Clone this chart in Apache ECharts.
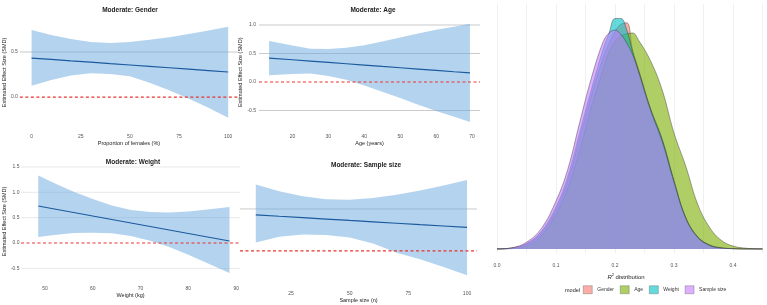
<!DOCTYPE html>
<html><head><meta charset="utf-8">
<script src="https://cdn.jsdelivr.net/npm/echarts@6/dist/echarts.min.js"></script>
<style>html,body{margin:0;padding:0;background:#fff}#c{width:767px;height:305px}</style>
</head><body><div id="c"></div>
<script>
// ---------- Panel 1: Gender ----------
const genderX   = [0,10,20,30,40,50,60,70,80,90,100];
const genderFit = [0.433,0.418,0.402,0.387,0.371,0.356,0.340,0.325,0.309,0.294,0.278];
const genderUp  = [0.744,0.69,0.645,0.61,0.60,0.61,0.635,0.665,0.70,0.74,0.78];
const genderLow = [0.125,0.19,0.24,0.265,0.255,0.23,0.16,0.075,-0.02,-0.12,-0.23];
const genderTicksX = [0,25,50,75,100];
const genderTicksY = [0,0.5];
const genderGridY  = [0.5];

// ---------- Panel 2: Age ----------
const ageX   = [13.5,20,25,30,35,40,45,50,55,60,65,69.4];
const ageFit = [0.42,0.39,0.366,0.343,0.32,0.297,0.273,0.25,0.227,0.204,0.18,0.16];
const ageUp  = [0.72,0.64,0.585,0.58,0.60,0.645,0.71,0.78,0.85,0.915,0.97,1.02];
const ageLow = [0.12,0.14,0.147,0.106,0.04,-0.06,-0.17,-0.28,-0.40,-0.51,-0.61,-0.70];
const ageTicksX = [20,30,40,50,60,70];
const ageTicksY = [-0.5,0,0.5,1.0];
const ageGridY  = [-0.5,0.5,1.0];

// ---------- Panel 3: Weight ----------
const weightX   = [48.6,52,56,60,64,68,72,76,80,84,88.6];
const weightFit = [0.73,0.671,0.602,0.533,0.464,0.395,0.326,0.257,0.188,0.119,0.04];
const weightUp  = [1.33,1.18,1.01,0.87,0.74,0.65,0.61,0.60,0.62,0.66,0.71];
const weightLow = [0.12,0.16,0.195,0.20,0.19,0.14,0.045,-0.08,-0.23,-0.40,-0.59];
const weightTicksX = [50,60,70,80,90];
const weightTicksY = [-0.5,0,0.5,1.0,1.5];
const weightGridY  = [-0.5,0.5,1.0,1.5];

// ---------- Panel 4: Sample size ----------
const sizeX   = [10,20,30,40,50,60,70,80,90,100];
const sizeFit = [0.43,0.413,0.397,0.38,0.363,0.347,0.33,0.313,0.297,0.28];
const sizeUp  = [0.79,0.71,0.65,0.615,0.61,0.63,0.67,0.72,0.78,0.845];
const sizeLow = [0.10,0.17,0.195,0.19,0.16,0.09,-0.02,-0.10,-0.19,-0.29];
const sizeTicksX = [25,50,75,100];
const sizeGridY  = [0.5];

// ---------- Panel 5: R^2 density ----------
const densX = [0,0.025,0.05,0.075,0.1,0.12,0.14,0.16,0.18,0.19,0.2,0.21,0.22,0.23,0.24,0.26,0.28,0.3,0.32,0.34,0.36,0.38,0.4,0.425,0.45];
const densGender = [0,0.03,0.17,0.55,1.35,2.35,3.8,5.3,6.6,7.1,7.5,7.75,7.8,6.85,6.2,4.85,3.78,2.35,1.08,0.42,0.14,0.04,0.01,0,0];
const densAge    = [0,0.01,0.1,0.45,1.2,2.1,3.4,4.9,6.2,6.8,7.15,7.35,7.42,7.45,7.2,6.5,5.48,4.0,2.85,1.55,0.75,0.3,0.1,0.02,0];
const densWeight = [0,0.03,0.18,0.6,1.45,2.5,4.0,5.5,6.9,7.45,7.95,7.95,7.55,6.8,6.15,4.85,3.78,2.35,1.08,0.42,0.14,0.04,0.01,0,0];
const densSize   = [0,0.04,0.23,0.7,1.65,2.75,4.35,5.9,7.15,7.45,7.55,7.4,7.1,6.7,6.1,4.8,3.7,2.3,1.05,0.4,0.12,0.03,0.01,0,0];
const densTicksX = [0,0.1,0.2,0.3,0.4];
const densGridX  = [0,0.05,0.1,0.15,0.2,0.25,0.3,0.35,0.4,0.45];
const modelNames  = ['Gender','Age','Weight','Sample size'];
const modelColors = ['#F8766D','#7CAE00','#00BFC4','#C77CFF'];

const FONT = '"Liberation Sans", Arial, sans-serif';
const RED = '#e8352e';
const chart = echarts.init(document.getElementById('c'), null, {renderer:'canvas'});

const zip = (xs, ys) => xs.map((x,i)=>[x, ys[i]]);

// band (ribbon) + horizontal grid lines + dashed zero reference, all through the panel's scales
function panelSeries(idx, xs, lo, up, gridYs, gridColor) {
  return {
    type:'custom', xAxisIndex:idx, yAxisIndex:idx, z:2, silent:true, clip:false,
    data:[[xs[0], lo[0]]],
    renderItem: function(params, api) {
      const cs = params.coordSys;
      const children = [];
      gridYs.forEach(v => {
        const y = api.coord([xs[0], v])[1];
        children.push({type:'line', shape:{x1:cs.x, y1:y, x2:cs.x+cs.width, y2:y},
          style:{stroke:gridColor, lineWidth:0.8}});
      });
      const pts = [];
      for (let i=0;i<xs.length;i++) pts.push(api.coord([xs[i], up[i]]));
      for (let i=xs.length-1;i>=0;i--) pts.push(api.coord([xs[i], lo[i]]));
      children.push({type:'polygon', shape:{points:pts}, style:{fill:'rgba(105,168,222,0.5)'}});
      const y0 = api.coord([xs[0], 0])[1];
      children.push({type:'line', shape:{x1:cs.x, y1:y0, x2:cs.x+cs.width, y2:y0},
        style:{stroke:RED, lineWidth:1.2, lineDash:[3,2.5]}});
      return {type:'group', children:children};
    }
  };
}
function fitSeries(idx, xs, fit) {
  return {type:'line', xAxisIndex:idx, yAxisIndex:idx, z:4, silent:true,
    data: zip(xs, fit), showSymbol:false, lineStyle:{color:'#1a5a9e', width:1.2}};
}

const tickFmt1 = v => (Math.abs(v) < 1e-9 ? '0.0' : v.toFixed(1));
const xLabelStyle = (vals, margin) => ({customValues: vals, fontSize:5, color:'#555', margin: margin, fontFamily: FONT});
const yLabelStyle = (vals, margin) => ({customValues: vals, fontSize:5, color:'#555', margin: margin, fontFamily: FONT, formatter: tickFmt1});
const nameStyle = {fontSize:5.5, color:'#222', fontFamily: FONT};

function xAxisCfg(idx, min, max, ticks, margin, name, gap) {
  return {gridIndex:idx, type:'value', min:min, max:max, axisLine:{show:false}, axisTick:{show:false},
    splitLine:{show:false}, axisLabel: xLabelStyle(ticks, margin),
    name:name, nameLocation:'middle', nameGap:gap, nameTextStyle:nameStyle};
}
function yAxisCfg(idx, min, max, ticks, margin, name, gap) {
  const c = {gridIndex:idx, type:'value', min:min, max:max, axisLine:{show:false}, axisTick:{show:false},
    splitLine:{show:false}};
  if (ticks) c.axisLabel = yLabelStyle(ticks, margin); else c.axisLabel = {show:false};
  if (name) { c.name = name; c.nameLocation='middle'; c.nameGap=gap; c.nameRotate=90; c.nameTextStyle=nameStyle; }
  return c;
}

const densSeries = modelNames.map((n,i)=>({
  name:n, type:'line', xAxisIndex:4, yAxisIndex:4, z:5+i, smooth:0.4, showSymbol:false, silent:true,
  data: zip(densX, [densGender,densAge,densWeight,densSize][i]),
  lineStyle:{color:'#333', width:0.5, opacity:0.85},
  itemStyle:{color:modelColors[i]},
  areaStyle:{color:modelColors[i], opacity:0.6}
}));

const titleStyle = {fontSize:6.5, fontWeight:'bold', color:'#222', fontFamily: FONT};

chart.setOption({
  animation:false,
  backgroundColor:'#fff',
  title:[
    {text:'Moderate: Gender', left:125, top:2, textAlign:'center', textStyle:titleStyle},
    {text:'Moderate: Age', left:368, top:2, textAlign:'center', textStyle:titleStyle},
    {text:'Moderate: Weight', left:128, top:154, textAlign:'center', textStyle:titleStyle},
    {text:'Moderate: Sample size', left:361, top:157, textAlign:'center', textStyle:titleStyle}
  ],
  grid:[
    {left:15, top:22.4, width:223, height:100.2},
    {left:259, top:19, width:221, height:106.6},
    {left:10, top:164.4, width:230, height:114.1},
    {left:240, top:175.2, width:237, height:104.9},
    {left:485, top:4, width:282, height:249}
  ],
  xAxis:[
    xAxisCfg(0, -5.97, 105, genderTicksX, 12, 'Proportion of females (%)', 18),
    xAxisCfg(1, 10.7, 72.2, ageTicksX, 9, 'Age (years)', 15),
    xAxisCfg(2, 45.0, 90.8, weightTicksX, 8, 'Weight (kg)', 13),
    xAxisCfg(3, 3.27, 104.25, sizeTicksX, 11.5, 'Sample size (n)', 17.5),
    {gridIndex:4, type:'value', min:-0.0203, max:0.4576, axisLine:{show:false}, axisTick:{show:false},
      splitLine:{show:false},
      axisLabel:{customValues: densTicksX, fontSize:5, color:'#555', margin:10, fontFamily:FONT, formatter: v=>v.toFixed(1)},
      name:'{i|R}{s|2} distribution', nameLocation:'middle', nameGap:16,
      nameTextStyle:{fontSize:6, color:'#222', fontFamily:FONT,
        rich:{i:{fontStyle:'italic', fontSize:6, fontFamily:FONT}, s:{fontSize:4, verticalAlign:'top', fontFamily:FONT, padding:[0,0,4,0]}}}}
  ],
  yAxis:[
    yAxisCfg(0, -0.284, 0.829, genderTicksY, 2, 'Estimated Effect Size (SMD)', 10),
    yAxisCfg(1, -0.765, 1.105, ageTicksY, 3, 'Estimated Effect Size (SMD)', 12),
    yAxisCfg(2, -0.7, 1.55, weightTicksY, 1.5, 'Estimated Effect Size (SMD)', 8),
    yAxisCfg(3, -0.347, 0.902, null, 0, null, 0),
    {gridIndex:4, type:'value', min:-0.14, max:8.45, axisLine:{show:false}, axisTick:{show:false}, splitLine:{show:false}, axisLabel:{show:false}}
  ],
  legend:{
    left:583, top:285.5, itemWidth:9, itemHeight:8, itemGap:6, padding:0, icon:'rect',
    textStyle:{fontSize:5, color:'#333', fontFamily:FONT},
    data: modelNames.map((n,i)=>({name:n, itemStyle:{color:modelColors[i], opacity:0.6, borderColor:'#444', borderWidth:0.5}}))
  },
  graphic:[
    {type:'text', left:565, top:287, style:{text:'model', fontSize:5.5, fill:'#222', fontFamily:FONT}}
  ],
  series:[
    panelSeries(0, genderX, genderLow, genderUp, genderGridY, '#bdbdbd'),
    fitSeries(0, genderX, genderFit),
    panelSeries(1, ageX, ageLow, ageUp, ageGridY, '#bdbdbd'),
    fitSeries(1, ageX, ageFit),
    panelSeries(2, weightX, weightLow, weightUp, weightGridY, '#e2e2e2'),
    fitSeries(2, weightX, weightFit),
    panelSeries(3, sizeX, sizeLow, sizeUp, sizeGridY, '#bdbdbd'),
    fitSeries(3, sizeX, sizeFit),

    {type:'line', xAxisIndex:4, yAxisIndex:4, z:1, silent:true, data: zip(densX, densSize), lineStyle:{opacity:0}, showSymbol:false,
      markLine:{silent:true, symbol:'none', label:{show:false}, lineStyle:{color:'#ececec', width:0.8, type:'solid'},
        data: densGridX.map(v=>({xAxis:v}))}},
    ...densSeries
  ]
});
</script>
</body></html>
